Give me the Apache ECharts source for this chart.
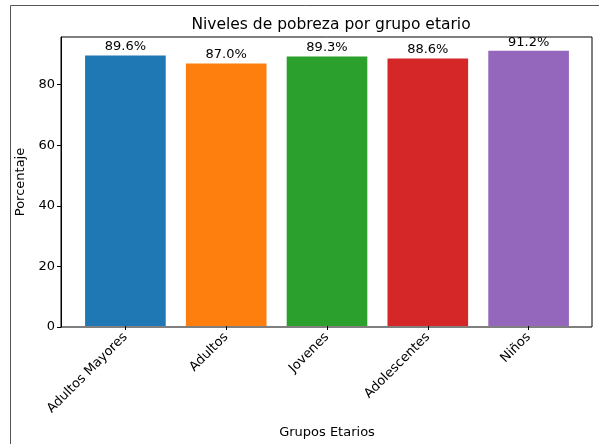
<!DOCTYPE html>
<html><head><meta charset="utf-8">
<script src="https://cdn.jsdelivr.net/npm/echarts@6/dist/echarts.min.js"></script>
<style>html,body{margin:0;padding:0;background:#fff}#c{width:599px;height:444px}</style>
</head><body><div id="c"></div>
<script>
const categories = ["Adultos Mayores", "Adultos", "Jovenes", "Adolescentes", "Niños"];
const values = [89.6, 87.0, 89.3, 88.6, 91.2];
const colors = ["#1f77b4", "#ff7f0e", "#2ca02c", "#d62728", "#9467bd"];
const yTicks = [0, 20, 40, 60, 80];
const title = "Niveles de pobreza por grupo etario";
const xName = "Grupos Etarios";
const yName = "Porcentaje";

const FONT = "DejaVu Sans";
const yMax = Math.max(...values) * 1.05;
const chart = echarts.init(document.getElementById('c'), null, {renderer: 'canvas'});
chart.setOption({
  animation: false,
  textStyle: {fontFamily: FONT},
  title: {text: title, left: 326, top: 12, textAlign: 'center',
    textStyle: {fontFamily: FONT, fontSize: 15.5, fontWeight: 'normal', color: '#000'}},
  graphic: [{type: 'rect', shape: {x: 10.5, y: 5.5, width: 620, height: 460},
    style: {fill: 'none', stroke: '#555', lineWidth: 1}, silent: true, z: -1}],
  grid: [
    {left: 61, right: 7, top: 37, height: 290, show: true, borderColor: '#000', borderWidth: 1, backgroundColor: 'transparent'},
    {left: 75, width: 504, top: 37, height: 290}
  ],
  xAxis: [
    {gridIndex: 0, type: 'value', min: 0, max: 1, show: false},
    {gridIndex: 1, type: 'category', data: categories,
      name: xName, nameLocation: 'middle', nameGap: 100,
      nameTextStyle: {fontFamily: FONT, fontSize: 13, color: '#000'},
      axisLine: {show: false},
      axisTick: {show: true, alignWithLabel: true, length: 4, lineStyle: {color: '#000'}},
      axisLabel: {rotate: 45, fontFamily: FONT, fontSize: 13, color: '#000', margin: 9, interval: 0}}
  ],
  yAxis: [
    {gridIndex: 0, type: 'value', min: 0, max: yMax,
      name: yName, nameLocation: 'middle', nameGap: 33,
      nameTextStyle: {fontFamily: FONT, fontSize: 13, color: '#000'},
      splitLine: {show: false}, axisLine: {show: true, lineStyle: {color: '#000'}},
      axisTick: {show: true, length: 4, lineStyle: {color: '#000'}, customValues: yTicks},
      axisLabel: {fontFamily: FONT, fontSize: 13, color: '#000', margin: 6, customValues: yTicks}},
    {gridIndex: 1, type: 'value', min: 0, max: yMax, show: false}
  ],
  series: [{
    type: 'bar', xAxisIndex: 1, yAxisIndex: 1, barWidth: '80%',
    data: values.map((v, i) => ({value: v, itemStyle: {color: colors[i]}})),
    label: {show: true, position: 'top', distance: 2, fontFamily: FONT, fontSize: 13, color: '#000',
      formatter: p => p.value.toFixed(1) + '%'}
  }]
});
</script></body></html>
